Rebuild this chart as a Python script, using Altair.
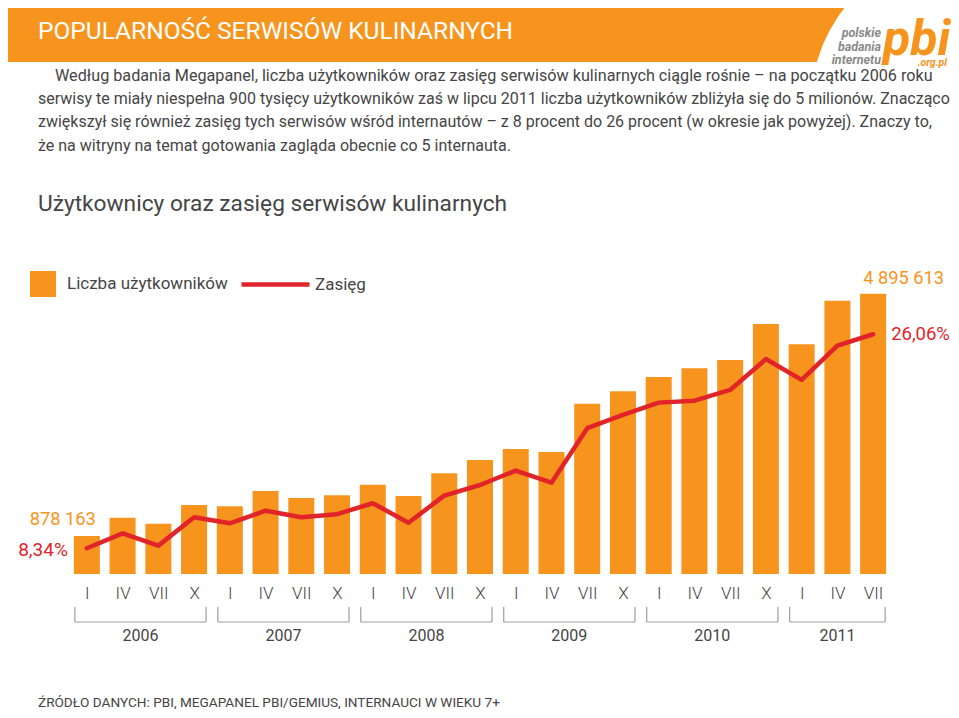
import json
import altair as alt
import pandas as pd

# ---------------- data ----------------
months = ["I", "IV", "VII", "X", "I", "IV", "VII", "X", "I", "IV", "VII", "X",
          "I", "IV", "VII", "X", "I", "IV", "VII", "X", "I", "IV", "VII"]
years = [2006, 2007, 2008, 2009, 2010, 2011]
year_first = [0, 4, 8, 12, 16, 20]
year_last = [3, 7, 11, 15, 19, 22]
users = [878163, 1181600, 1082100, 1392200, 1370600, 1624300, 1508200, 1553000,
         1728700, 1541400, 1917800, 2138300, 2320700, 2271000, 3071800, 3277400,
         3514500, 3658700, 3796400, 4393300, 4056700, 4779600, 4895613]
reach = [8.34, 9.58, 8.56, 10.91, 10.41, 11.45, 10.91, 11.16, 12.07, 10.46, 12.70,
         13.58, 14.77, 13.77, 18.28, 19.38, 20.40, 20.56, 21.45, 24.01, 22.28, 25.12, 26.06]
series_users = "Liczba użytkowników"
series_reach = "Zasięg"

title = "POPULARNOŚĆ SERWISÓW KULINARNYCH"
paragraph = [
    "Według badania Megapanel, liczba użytkowników oraz zasięg serwisów kulinarnych ciągle rośnie – na początku 2006 roku",
    "serwisy te miały niespełna 900 tysięcy użytkowników zaś w lipcu 2011 liczba użytkowników zbliżyła się do 5 milionów. Znacząco",
    "zwiększył się również zasięg tych serwisów wśród internautów – z 8 procent do 26 procent (w okresie jak powyżej). Znaczy to,",
    "że na witryny na temat gotowania zagląda obecnie co 5 internauta.",
]
subtitle = "Użytkownicy oraz zasięg serwisów kulinarnych"
source = "ŹRÓDŁO DANYCH: PBI, MEGAPANEL PBI/GEMIUS, INTERNAUCI W WIEKU 7+"
logo_words = ["polskie", "badania", "internetu"]

df = pd.DataFrame({"idx": list(range(len(users))), "month": months,
                   "users": users, "reach": reach})
df["bar_series"] = series_users
df["line_series"] = series_reach
df["users_label"] = [f"{v:,}".replace(",", " ") for v in users]
df["reach_label"] = [f"{v:.2f}".replace(".", ",") + "%" for v in reach]
ydf = pd.DataFrame({"year": years, "first": year_first, "last": year_last})

# ---------------- layout ----------------
ORANGE = "#f7941d"
RED = "#e1232a"
TXT = "#454545"
FONT = "Roboto"
OX, OY = 69, 274          # plot origin in page pixels
W, H = 822, 300
U_MIN = 248100

xscale = alt.Scale(domain=[-0.5, len(users) - 0.5], nice=False, zero=False, padding=0)
xaxis = alt.Axis(values=list(range(len(users))),
                 labelExpr=json.dumps(months) + "[datum.value]",
                 grid=False, domain=False, ticks=False, title=None,
                 labelPadding=11, labelFontSize=17, labelColor=TXT,
                 labelFont=FONT, labelFontWeight=300)


def X(field):
    return alt.X(field, scale=xscale, axis=xaxis)


yU = alt.Scale(domain=[U_MIN, 5222200], nice=False, zero=False)
yR = alt.Scale(domain=[6.21, 31.05], nice=False, zero=False)

one = pd.DataFrame({"k": [0]})


def txt(s, x, y, size, color, align="left", baseline="middle", weight="normal",
        style="normal", font=FONT):
    return alt.Chart(one).mark_text(
        text=s, align=align, baseline=baseline, fontSize=size, color=color,
        fontWeight=weight, fontStyle=style, font=font
    ).encode(x=alt.value(x - OX), y=alt.value(y - OY))


header = alt.Chart(one).mark_rect(color=ORANGE).encode(
    x=alt.value(-OX), x2=alt.value(959 - OX), y=alt.value(-OY), y2=alt.value(62 - OY))
circle = alt.Chart(one).mark_point(filled=True, shape="circle", size=96000, color="white",
                                   opacity=1, strokeWidth=0).encode(
    x=alt.value(966 - OX), y=alt.value(104 - OY))

texts = [txt(title, 38, 32, 24.5, "white")]
for i, w in enumerate(logo_words):
    texts.append(txt(w, 881, 33 + 13.5 * i, 12.5, "#8a8a8a", align="right",
                     weight="bold", style="italic"))
texts.append(txt("pbi", 883, 55, 50, ORANGE, baseline="alphabetic", weight="bold",
                 style="italic"))
texts.append(txt(".org.pl", 947, 63, 10.5, ORANGE, align="right", weight="bold",
                 style="italic"))
para_y = [76, 99, 122, 146]
para_size = [16.2, 16.0, 16.0, 16.0]
for i, line in enumerate(paragraph):
    texts.append(txt(line, 55 if i == 0 else 38, para_y[i], para_size[i], TXT))
texts.append(txt(subtitle, 38, 204, 22.7, TXT))
texts.append(txt(source, 38, 707, 13.6, TXT, baseline="alphabetic"))

base = alt.Chart(df)

bars = base.mark_bar(size=26).encode(
    x=X("idx:Q"),
    y=alt.Y("users:Q", scale=yU, axis=None),
    y2=alt.datum(U_MIN),
    color=alt.Color("bar_series:N", scale=alt.Scale(domain=[series_users], range=[ORANGE]),
                    legend=alt.Legend(orient="none", legendX=30 - OX, legendY=271 - OY,
                                      title=None, symbolType="square", symbolSize=676,
                                      symbolStrokeWidth=0, symbolOpacity=1,
                                      labelFontSize=17, labelColor=TXT, labelFont=FONT,
                                      labelOffset=11, labelLimit=0, padding=0)),
)

line = base.mark_line(strokeWidth=4.5, strokeCap="round", strokeJoin="round").encode(
    x=X("idx:Q"),
    y=alt.Y("reach:Q", scale=yR, axis=None),
    stroke=alt.Stroke("line_series:N", scale=alt.Scale(domain=[series_reach], range=[RED]),
                      legend=alt.Legend(orient="none", legendX=239 - OX, legendY=248 - OY,
                                        title=None, symbolType="stroke", symbolSize=4624,
                                        symbolStrokeWidth=4.5, labelFontSize=17,
                                        labelColor=TXT, labelFont=FONT, labelOffset=3,
                                        labelLimit=0, padding=0)),
)

first_u = base.transform_filter("datum.idx == 0").mark_text(
    align="right", baseline="middle", dx=9, dy=-16, fontSize=18.3, color=ORANGE, font=FONT
).encode(x=X("idx:Q"), y=alt.Y("users:Q", scale=yU, axis=None), text="users_label:N")
last_u = base.transform_filter(f"datum.idx == {len(users) - 1}").mark_text(
    align="left", baseline="middle", dx=-10, dy=-15, fontSize=18.3, color=ORANGE, font=FONT
).encode(x=X("idx:Q"), y=alt.Y("users:Q", scale=yU, axis=None), text="users_label:N")
first_r = base.transform_filter("datum.idx == 0").mark_text(
    align="right", baseline="middle", dx=-19, dy=2, fontSize=19, color=RED, font=FONT
).encode(x=X("idx:Q"), y=alt.Y("reach:Q", scale=yR, axis=None), text="reach_label:N")
last_r = base.transform_filter(f"datum.idx == {len(users) - 1}").mark_text(
    align="left", baseline="middle", dx=18, dy=0, fontSize=18.5, color=RED, font=FONT
).encode(x=X("idx:Q"), y=alt.Y("reach:Q", scale=yR, axis=None), text="reach_label:N")

GRAY = "#9d9d9d"
yb = alt.Chart(ydf)
br_left = yb.mark_rule(xOffset=-12, color=GRAY, strokeWidth=1.2).encode(
    x=X("first:Q"), y=alt.value(607 - OY), y2=alt.value(622 - OY))
br_right = yb.mark_rule(xOffset=12, color=GRAY, strokeWidth=1.2).encode(
    x=X("last:Q"), y=alt.value(607 - OY), y2=alt.value(622 - OY))
br_h = yb.mark_rule(xOffset=-12, x2Offset=12, color=GRAY, strokeWidth=1.2).encode(
    x=X("first:Q"), x2="last:Q", y=alt.value(622 - OY))
yr_txt = yb.transform_calculate(mid="(datum.first + datum.last) / 2").mark_text(
    baseline="middle", align="center", fontSize=16, color=TXT, font=FONT
).encode(x=X("mid:Q"), y=alt.value(636 - OY), text="year:N")

chart = alt.layer(
    header, circle, *texts, bars, line, first_u, last_u, first_r, last_r,
    br_left, br_right, br_h, yr_txt
).resolve_scale(y="independent").properties(
    width=W, height=H, autosize="none",
    padding={"left": OX - 8, "top": OY - 8, "right": 943 - (OX - 8) - W,
             "bottom": 702 - (OY - 8) - H},
    background="white",
).configure_view(stroke=None)

chart.save("out.html", embed_options={"renderer": "svg", "actions": False})
